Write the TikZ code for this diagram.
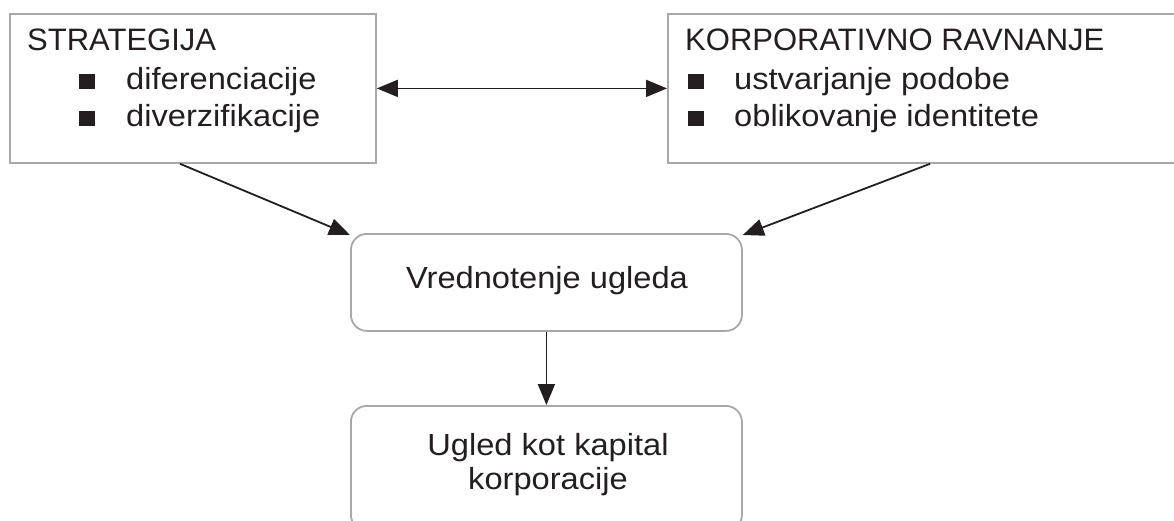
\documentclass[tikz,border=0pt]{standalone}
\usepackage{fontspec}
\setmainfont{Liberation Sans}
\newfontfamily\widesans[FakeStretch=1.07]{Liberation Sans}
\usetikzlibrary{arrows.meta}
\definecolor{ink}{HTML}{231F20}
\definecolor{frame}{HTML}{A8A8A8}
\tikzset{
  box/.style={draw=frame, line width=1.8pt, rectangle, inner sep=0pt, anchor=north west},
  rbox/.style={box, rounded corners=16pt},
  head/.style={inner sep=0pt, anchor=base west, text=ink, font=\fontsize{31}{37}\selectfont},
  txt/.style={inner sep=0pt, anchor=base west, text=ink, font=\widesans\fontsize{30.5}{37}\selectfont},
  ctxt/.style={inner sep=0pt, anchor=base, text=ink, font=\widesans\fontsize{30.5}{37}\selectfont},
  arr/.style={draw=ink, line width=1.8pt, -{Triangle[length=21pt,width=17pt]}},
  darr/.style={draw=ink, line width=1.8pt, {Triangle[length=21pt,width=17pt]}-{Triangle[length=21pt,width=17pt]}}
}
\newcommand{\blt}[1]{\makebox[#1][l]{\rule{16pt}{15pt}}}
\begin{document}
\begin{tikzpicture}[x=1pt,y=-1pt]
  \clip (0,0) rectangle (1174,520);
  \fill[white] (0,0) rectangle (1174,520);

  % frames
  \node[box, minimum width=366pt, minimum height=149pt] (strat) at (9,13) {};
  \node[box, minimum width=540pt, minimum height=149pt] (korp) at (667,13) {};
  \node[rbox, minimum width=391pt, minimum height=97pt] (val) at (350,233) {};
  \node[rbox, minimum width=391pt, minimum height=125pt] (cap) at (350,405) {};

  % left box text
  \node[head] (stratT) at (27,50) {STRATEGIJA};
  \node[txt] (stratA) at (79,89) {\blt{47pt}diferenciacije};
  \node[txt] (stratB) at (79,126) {\blt{47pt}diverzifikacije};

  % right box text
  \node[head] (korpT) at (685,50) {KORPORATIVNO RAVNANJE};
  \node[txt] (korpA) at (688,89) {\blt{46pt}ustvarjanje podobe};
  \node[txt] (korpB) at (688,126) {\blt{46pt}oblikovanje identitete};

  % centre boxes text
  \node[ctxt] (valT) at (547,288) {Vrednotenje ugleda};
  \node[ctxt] (capA) at (548,455) {Ugled kot kapital};
  \node[ctxt] (capB) at (548,489) {korporacije};

  % connectors
  \draw[darr] (strat.east) -- (korp.west);
  \draw[arr] ([xshift=171pt]strat.south west) -- ([yshift=-2pt]val.north west);
  \draw[arr] ([xshift=263pt]korp.south west) -- ([yshift=-2pt]val.north east);
  \draw[arr] (val.south) -- (cap.north);
\end{tikzpicture}
\end{document}
